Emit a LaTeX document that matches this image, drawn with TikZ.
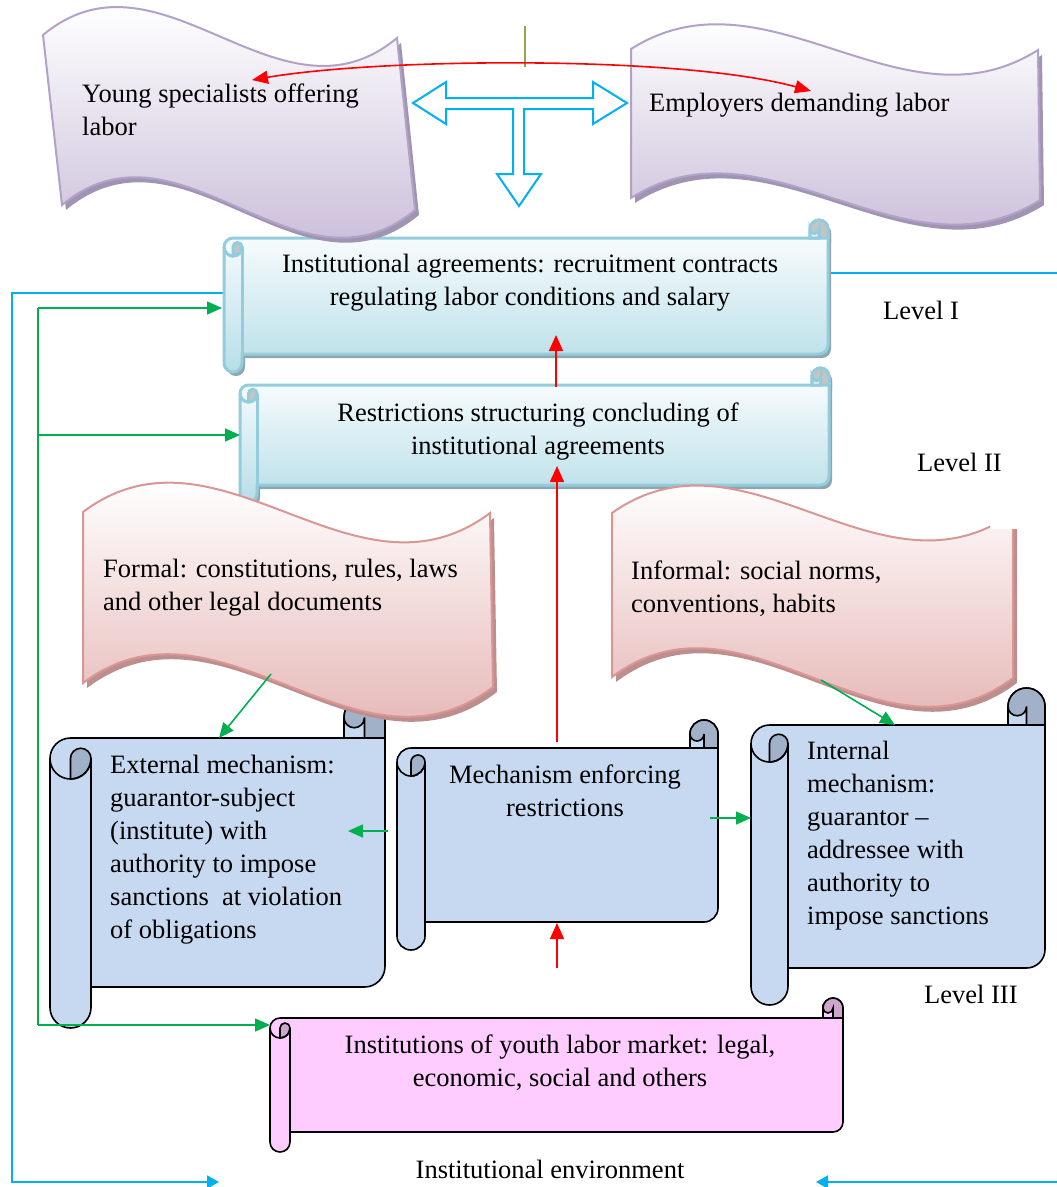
\documentclass[tikz,border=0pt]{standalone}
\usepackage{fontspec}
\setmainfont{Liberation Serif}
\usetikzlibrary{arrows.meta}
\definecolor{cyanl}{HTML}{00B0F0}
\definecolor{greenl}{HTML}{00B050}
\definecolor{redl}{HTML}{FF0000}
\definecolor{tickc}{HTML}{8FA84E}
\definecolor{purpB}{HTML}{B3A2C7}
\definecolor{purpF}{HTML}{CBBFDA}
\definecolor{purpS}{HTML}{A094B3}
\definecolor{pinkB}{HTML}{D99694}
\definecolor{pinkF}{HTML}{E6B9B8}
\definecolor{pinkS}{HTML}{BC8F8E}
\definecolor{lbB}{HTML}{93CDDD}
\definecolor{lbF}{HTML}{B7DEE8}
\definecolor{lbL}{HTML}{DDEFF4}
\definecolor{lbS}{HTML}{8EA6AE}
\definecolor{lbD}{HTML}{C4C4C4}
\definecolor{blF}{HTML}{C6D9F1}
\definecolor{blD}{HTML}{A1B1C8}
\definecolor{mgF}{HTML}{FFCCFF}
\definecolor{mgD}{HTML}{CDA6CD}

\newcommand\mylines[2]{\begin{tabular}[t]{@{}#1@{}}#2\end{tabular}}

% #1 L, #2 T, #3 R, #4 B, #5 c, #6 main fill, #7 dark, #8 light, #9 stroke
\newcommand\myscroll[9]{%
  \pgfmathsetmacro\sh{#5/2}%
  \pgfmathsetmacro\sq{#5/4}%
  \path[#6,#9] (#1,{#2+1.5*#5}) arc[start angle=180,end angle=270,radius=\sh]
    -- ({#3-#5},{#2+#5}) -- ({#3-#5},{#2+\sh}) arc[start angle=180,end angle=360,radius=\sh]
    -- (#3,{#4-#5-\sh}) arc[start angle=0,end angle=90,radius=\sh]
    -- ({#1+#5},{#4-#5}) -- ({#1+#5},{#4-\sh}) arc[start angle=0,end angle=180,radius=\sh]
    -- cycle;
  \path[fill=#7,#9] ({#3-#5},{#2+#5}) -- ({#3-#5},{#2+\sh}) arc[start angle=180,end angle=360,radius=\sh] -- (#3,{#2+#5}) -- cycle;
  \path[fill=#8,#9] ({#3-#5},{#2+#5}) -- ({#3-#5},{#2+\sh}) arc[start angle=180,end angle=0,radius=\sq] -- ({#3-\sh},{#2+#5}) -- cycle;
  \path[fill=#7,#9] ({#1+\sh},{#2+1.5*#5}) arc[start angle=180,end angle=360,radius=\sq] -- ({#1+#5},{#2+1.5*#5}) arc[start angle=0,end angle=90,radius=\sh] -- cycle;
  \path[#9] (#1,{#2+1.5*#5}) arc[start angle=180,end angle=0,radius=\sh];
  \path[#9] ({#1+#5},{#2+1.5*#5}) -- ({#1+#5},{#4-#5});
}

\newcommand\wavA{(43,35) .. controls (161,-63) and (279,136) .. (397,38) -- (415,210) .. controls (297,308) and (180,107) .. (62,205) -- cycle}
\newcommand\wavB{(631,49) .. controls (767,-37) and (902,136) .. (1038,50) -- (1040,200) .. controls (904,286) and (767,112) .. (631,198) -- cycle}
\newcommand\wavC{(83,512) .. controls (219,410) and (354,615) .. (490,513) -- (493,687) .. controls (357,791) and (219,581) .. (83,683) -- cycle}
\newcommand\wavD{(612,513) .. controls (746,418) and (879,608) .. (1013,513) -- (1013,678) .. controls (879,778) and (746,577) .. (612,677) -- cycle}

\begin{document}
\begin{tikzpicture}[x=1pt,y=-1pt,
  txt/.style={font=\fontsize{26.5}{33}\selectfont, inner sep=0pt, text=black},
  cyanln/.style={cyanl, line width=2pt},
  greenln/.style={greenl, line width=1.6pt},
  redln/.style={redl, line width=1.6pt},
  gtip/.style={-{Triangle[length=15pt,width=13pt]}},
  rtip/.style={-{Triangle[length=16pt,width=14pt]}},
  ctip/.style={-{Triangle[length=12pt,width=13pt]}},
  bluestroke/.style={draw=black, line width=1.6pt},
  lbstroke/.style={draw=lbB, line width=3pt}]
\useasboundingbox (0,0) rectangle (1057,1187);
\fill[white] (0,0) rectangle (1057,1187);

% cyan bracket (institutional environment)
\coordinate (cy1) at (225,293);
\coordinate (cy2) at (12,293);
\coordinate (cy3) at (12,1182);
\coordinate (cy4) at (219,1182);
\coordinate (cy5) at (828,273);
\coordinate (cy6) at (1057,273);
\coordinate (cy7) at (1057,1182);
\coordinate (cy8) at (816,1182);
\draw[cyanln, ctip] (cy1) -- (cy2) -- (cy3) -- (cy4);
\draw[cyanln] (cy5) -- (cy6);
\draw[cyanln, ctip] (cy7) -- (cy8);

% level I and II scrolls
\begin{scope}[shift={(3,4)}]
\myscroll{224}{220}{828}{372}{18}{fill=lbS}{lbS}{lbS}{draw=none}
\myscroll{240}{368}{829}{502}{17}{fill=lbS}{lbS}{lbS}{draw=none}
\end{scope}
\myscroll{224}{220}{828}{372}{18}{top color=white,bottom color=lbF}{lbD}{lbL}{lbstroke}
\myscroll{240}{368}{829}{502}{17}{top color=white,bottom color=lbF}{lbD}{lbL}{lbstroke}

% top waves
\fill[purpS, shift={(4,5)}] \wavA;
\begin{scope}\clip \wavA; \shade[top color=white, bottom color=purpF] (30,5) rectangle (430,245); \end{scope}
\draw[purpB, line width=2pt] \wavA;
\fill[purpS, shift={(4,5)}] \wavB;
\begin{scope}\clip \wavB; \shade[top color=white, bottom color=purpF] (620,20) rectangle (1050,235); \end{scope}
\draw[purpB, line width=2pt] \wavB;

% T arrow and tick
\draw[cyanl, line width=2pt, fill=white, line join=miter] (413,103) -- (446,82) -- (446,98) -- (593,98) -- (593,82) -- (627,103) -- (593,124) -- (593,109) -- (524,109) -- (524,174) -- (541,174) -- (519,206) -- (497,174) -- (513,174) -- (513,109) -- (446,109) -- (446,124) -- cycle;
\draw[tickc, line width=2pt] (525,26) -- (525,67);

% level III scrolls
\myscroll{50}{697}{385}{1028}{41}{fill=blF}{blD}{blF}{bluestroke}
\myscroll{397}{720}{718}{950}{28}{fill=blF}{blD}{blF}{bluestroke}
\myscroll{751}{688}{1045}{1005}{37}{fill=blF}{blD}{blF}{bluestroke}
\myscroll{270}{998}{843}{1152}{20}{fill=mgF}{mgD}{mgF}{bluestroke}

% pink waves
\fill[pinkS, shift={(4,5)}] \wavC;
\begin{scope}\clip \wavC; \shade[top color=white, bottom color=pinkF] (70,480) rectangle (505,725); \end{scope}
\draw[pinkB, line width=2pt] \wavC;
\begin{scope}
\clip (0,0) -- (990,0) -- (990,529) -- (1057,529) -- (1057,1187) -- (0,1187) -- cycle;
\fill[pinkS, shift={(4,5)}] \wavD;
\begin{scope}\clip \wavD; \shade[top color=white, bottom color=pinkF] (600,480) rectangle (1025,715); \end{scope}
\draw[pinkB, line width=2pt] \wavD;
\end{scope}

% texts
\node[txt, anchor=base west] (young) at (82,102) {\mylines{l}{Young specialists offering\\labor}};
\node[txt, anchor=base west] (employers) at (649,111) {Employers demanding labor};
\node[txt, anchor=base] (agree) at (530,272) {\mylines{c}{Institutional agreements: recruitment contracts\\regulating labor conditions and salary}};
\node[txt, anchor=base] (restr) at (538,421) {\mylines{c}{Restrictions structuring concluding of\\institutional agreements}};
\node[txt, anchor=base west] (formal) at (103,577) {\mylines{l}{Formal: constitutions, rules, laws\\and other legal documents}};
\node[txt, anchor=base west] (informal) at (631,579) {\mylines{l}{Informal: social norms,\\conventions, habits}};
\node[txt, anchor=base west] (external) at (110,773) {\mylines{l}{External mechanism:\\guarantor-subject\\(institute) with\\authority to impose\\sanctions~ at violation\\of obligations}};
\node[txt, anchor=base] (mech) at (565,783) {\mylines{c}{Mechanism enforcing\\restrictions}};
\node[txt, anchor=base west] (internal) at (807,759) {\mylines{l}{Internal\\mechanism:\\guarantor --\\addressee with\\authority to\\impose sanctions}};
\node[txt, anchor=base] (youth) at (560,1053) {\mylines{c}{Institutions of youth labor market: legal,\\economic, social and others}};
\node[txt, anchor=base west] (lvl1) at (883,319) {Level I};
\node[txt, anchor=base west] (lvl2) at (917,471) {Level II};
\node[txt, anchor=base west] (lvl3) at (924,1003) {Level III};
\node[txt, anchor=base] (env) at (550,1178) {Institutional environment};

% red connectors
\coordinate (redL) at (252,80);
\coordinate (redR) at (811,91);
\draw[redln, {Triangle[length=16pt,width=13pt]}-{Triangle[length=16pt,width=13pt]}] (redL) .. controls (380,58) and (680,55) .. (redR);
\coordinate (r1a) at (556,387); \coordinate (r1b) at (556,335);
\coordinate (r2a) at (557,742); \coordinate (r2b) at (557,466);
\coordinate (r3a) at (557,968); \coordinate (r3b) at (557,923);
\draw[redln, rtip] (r1a) -- (r1b);
\draw[redln, rtip] (r2a) -- (r2b);
\draw[redln, rtip] (r3a) -- (r3b);

% green connectors
\coordinate (gA) at (38,308); \coordinate (gB) at (38,435); \coordinate (gC) at (38,1025);
\coordinate (s1in) at (222,308); \coordinate (s2in) at (240,435); \coordinate (s3in) at (270,1025);
\draw[greenln] (gA) -- (gC);
\draw[greenln, gtip] (gA) -- (s1in);
\draw[greenln, gtip] (gB) -- (s2in);
\draw[greenln, gtip] (gC) -- (s3in);
\coordinate (fOut) at (271,674); \coordinate (extTop) at (219,738);
\coordinate (iOut) at (821,680); \coordinate (intTop) at (895,725);
\draw[greenln, gtip] (fOut) -- (extTop);
\draw[greenln, gtip] (iOut) -- (intTop);
\coordinate (mL) at (388,831); \coordinate (extIn) at (348,831);
\coordinate (mR) at (710,818); \coordinate (intIn) at (751,818);
\draw[greenln, gtip] (mL) -- (extIn);
\draw[greenln, gtip] (mR) -- (intIn);
\end{tikzpicture}
\end{document}
